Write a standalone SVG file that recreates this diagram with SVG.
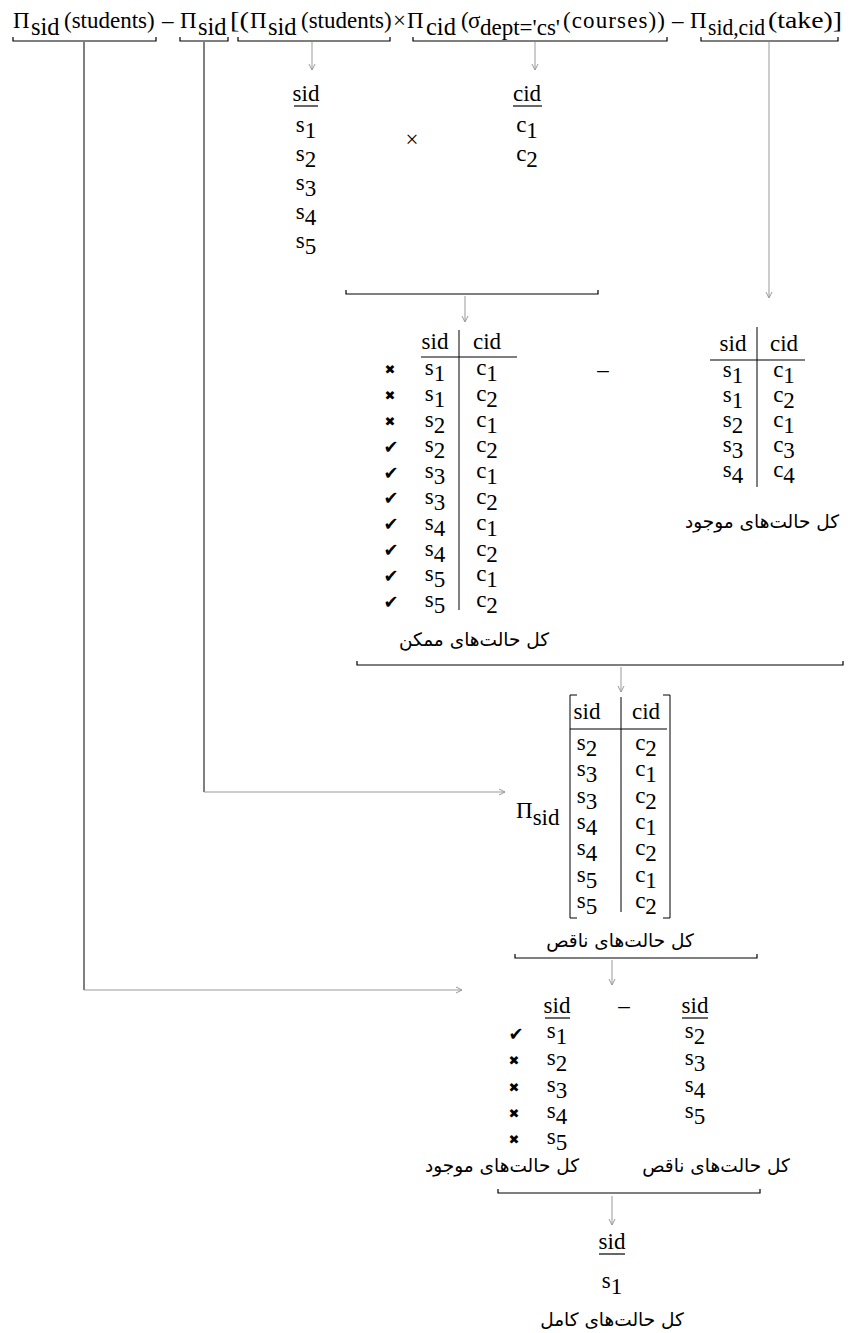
<svg xmlns="http://www.w3.org/2000/svg" width="852" height="1333" viewBox="0 0 852 1333">
<style>
.t{font-family:"Liberation Serif","Times New Roman",serif;font-size:23px;fill:#000}
.sub{font-size:24.5px}
.c{text-anchor:middle}
.fa{font-family:"DejaVu Sans","Noto Sans",sans-serif;font-size:18.5px;fill:#000;text-anchor:middle}
.mk{font-family:"DejaVu Sans",sans-serif;font-size:18px;fill:#000;text-anchor:middle}
.xm{font-family:"DejaVu Sans",sans-serif;font-size:13px;fill:#000;text-anchor:middle}
.brace{fill:none;stroke:#000;stroke-width:1.2}
.rule{fill:none;stroke:#000;stroke-width:1.2}
.k{fill:none;stroke:#000;stroke-width:1}
.g{fill:none;stroke:#999;stroke-width:1}
</style>
<defs>
<marker id="ah" markerWidth="8" markerHeight="8" refX="7" refY="4" orient="auto" markerUnits="userSpaceOnUse">
<path d="M1,1 L7,4 L1,7" fill="none" stroke="#999" stroke-width="1"/>
</marker>
</defs>
<rect width="852" height="1333" fill="#fff"/>

<g id="formula">
<text class="t" y="28"><tspan x="13">Π</tspan><tspan class="sub" x="31" y="35">sid</tspan><tspan x="64" y="28">(students)</tspan><tspan x="162">–</tspan><tspan x="180">Π</tspan><tspan class="sub" x="198" y="35">sid</tspan><tspan x="230" y="28" textLength="19" lengthAdjust="spacingAndGlyphs">[(</tspan><tspan x="250">Π</tspan><tspan class="sub" x="268" y="35">sid</tspan><tspan x="301" y="28">(students)</tspan><tspan x="393">×</tspan><tspan x="407">Π</tspan><tspan class="sub" x="426" y="35">cid</tspan><tspan x="461" y="28">(</tspan><tspan x="468">σ</tspan><tspan x="480" y="35">dept='cs'</tspan><tspan x="563" y="28" textLength="102" lengthAdjust="spacing">(courses))</tspan><tspan x="672">–</tspan><tspan x="690">Π</tspan><tspan x="708" y="35" textLength="57" lengthAdjust="spacingAndGlyphs">sid,cid</tspan><tspan x="768" y="28" textLength="74" lengthAdjust="spacingAndGlyphs">(take)]</tspan></text>
<path class="brace" d="M13,37 V41 H156 V37"/>
<path class="brace" d="M180,37 V41 H228 V37"/>
<path class="brace" d="M238,37 V41 H390 V37"/>
<path class="brace" d="M413,37 V41 H667 V37"/>
<path class="brace" d="M701,37 V41 H838 V37"/>
</g>

<g id="students">
<text class="t c" x="306" y="101">sid</text>
<path class="rule" d="M294,106 H318"/>
<text class="t c" x="306" y="132">s<tspan dy="6">1</tspan></text>
<text class="t c" x="306" y="161">s<tspan dy="6">2</tspan></text>
<text class="t c" x="306" y="190">s<tspan dy="6">3</tspan></text>
<text class="t c" x="306" y="219">s<tspan dy="6">4</tspan></text>
<text class="t c" x="306" y="248">s<tspan dy="6">5</tspan></text>
</g>
<g id="times-op"><text class="t c" x="412" y="147">×</text></g>
<g id="courses">
<text class="t c" x="527" y="101">cid</text>
<path class="rule" d="M513,106 H542"/>
<text class="t c" x="527" y="132">c<tspan dy="6">1</tspan></text>
<text class="t c" x="527" y="161">c<tspan dy="6">2</tspan></text>
</g>
<g id="product-brace"><path class="brace" d="M346,290 V294 H598 V290"/></g>

<g id="product">
<text class="t c" x="435" y="349">sid</text>
<text class="t c" x="487" y="349">cid</text>
<path class="k" d="M459,330 V610"/>
<path class="rule" d="M421,357 H517"/>
<g class="xm"><text x="390" y="374">✖</text><text x="390" y="400">✖</text><text x="390" y="426">✖</text></g>
<g class="mk"><text x="391" y="453">✔</text><text x="391" y="479">✔</text><text x="391" y="504">✔</text><text x="391" y="530">✔</text><text x="391" y="556">✔</text><text x="391" y="582">✔</text><text x="391" y="608">✔</text></g>
<text class="t c" x="435" y="375">s<tspan dy="6">1</tspan></text><text class="t c" x="487" y="375">c<tspan dy="6">1</tspan></text>
<text class="t c" x="435" y="401">s<tspan dy="6">1</tspan></text><text class="t c" x="487" y="401">c<tspan dy="6">2</tspan></text>
<text class="t c" x="435" y="427">s<tspan dy="6">2</tspan></text><text class="t c" x="487" y="427">c<tspan dy="6">1</tspan></text>
<text class="t c" x="435" y="452">s<tspan dy="6">2</tspan></text><text class="t c" x="487" y="452">c<tspan dy="6">2</tspan></text>
<text class="t c" x="435" y="478">s<tspan dy="6">3</tspan></text><text class="t c" x="487" y="478">c<tspan dy="6">1</tspan></text>
<text class="t c" x="435" y="504">s<tspan dy="6">3</tspan></text><text class="t c" x="487" y="504">c<tspan dy="6">2</tspan></text>
<text class="t c" x="435" y="530">s<tspan dy="6">4</tspan></text><text class="t c" x="487" y="530">c<tspan dy="6">1</tspan></text>
<text class="t c" x="435" y="556">s<tspan dy="6">4</tspan></text><text class="t c" x="487" y="556">c<tspan dy="6">2</tspan></text>
<text class="t c" x="435" y="581">s<tspan dy="6">5</tspan></text><text class="t c" x="487" y="581">c<tspan dy="6">1</tspan></text>
<text class="t c" x="435" y="607">s<tspan dy="6">5</tspan></text><text class="t c" x="487" y="607">c<tspan dy="6">2</tspan></text>
<text class="fa" x="474" y="646">کل حالت‌های ممکن</text>
</g>
<g id="minus-op"><text class="t c" x="603" y="377">–</text></g>

<g id="take">
<text class="t c" x="733" y="351">sid</text>
<text class="t c" x="784" y="351">cid</text>
<path class="k" d="M757,327 V487"/>
<path class="rule" d="M710,360 H805"/>
<text class="t c" x="733" y="377">s<tspan dy="6">1</tspan></text><text class="t c" x="784" y="377">c<tspan dy="6">1</tspan></text>
<text class="t c" x="733" y="402">s<tspan dy="6">1</tspan></text><text class="t c" x="784" y="402">c<tspan dy="6">2</tspan></text>
<text class="t c" x="733" y="427">s<tspan dy="6">2</tspan></text><text class="t c" x="784" y="427">c<tspan dy="6">1</tspan></text>
<text class="t c" x="733" y="452">s<tspan dy="6">3</tspan></text><text class="t c" x="784" y="452">c<tspan dy="6">3</tspan></text>
<text class="t c" x="733" y="477">s<tspan dy="6">4</tspan></text><text class="t c" x="784" y="477">c<tspan dy="6">4</tspan></text>
<text class="fa" x="762" y="528">کل حالت‌های موجود</text>
</g>
<g id="diff-brace"><path class="brace" d="M357,661 V665 H843 V661"/></g>

<g id="projection">
<text class="t" x="516" y="818">Π<tspan dy="7">sid</tspan></text>
<path class="k" d="M577,695 H570 V918 H577"/>
<path class="k" d="M663,695 H670 V918 H663"/>
<text class="t c" x="587" y="719">sid</text>
<text class="t c" x="646" y="719">cid</text>
<path class="k" d="M621,697 V912"/>
<path class="rule" d="M570,729 H667"/>
<text class="t c" x="587" y="750">s<tspan dy="6">2</tspan></text><text class="t c" x="646" y="750">c<tspan dy="6">2</tspan></text>
<text class="t c" x="587" y="776">s<tspan dy="6">3</tspan></text><text class="t c" x="646" y="776">c<tspan dy="6">1</tspan></text>
<text class="t c" x="587" y="803">s<tspan dy="6">3</tspan></text><text class="t c" x="646" y="803">c<tspan dy="6">2</tspan></text>
<text class="t c" x="587" y="829">s<tspan dy="6">4</tspan></text><text class="t c" x="646" y="829">c<tspan dy="6">1</tspan></text>
<text class="t c" x="587" y="855">s<tspan dy="6">4</tspan></text><text class="t c" x="646" y="855">c<tspan dy="6">2</tspan></text>
<text class="t c" x="587" y="882">s<tspan dy="6">5</tspan></text><text class="t c" x="646" y="882">c<tspan dy="6">1</tspan></text>
<text class="t c" x="587" y="908">s<tspan dy="6">5</tspan></text><text class="t c" x="646" y="908">c<tspan dy="6">2</tspan></text>
<text class="fa" x="620" y="947">کل حالت‌های ناقص</text>
<path class="brace" d="M515,954 V958 H757 V954"/>
</g>

<g id="incomplete-list">
<text class="t c" x="695" y="1013">sid</text>
<path class="rule" d="M682,1018 H708"/>
<text class="t c" x="695" y="1038">s<tspan dy="6">2</tspan></text>
<text class="t c" x="695" y="1065">s<tspan dy="6">3</tspan></text>
<text class="t c" x="695" y="1092">s<tspan dy="6">4</tspan></text>
<text class="t c" x="695" y="1118">s<tspan dy="6">5</tspan></text>
<text class="fa" x="716" y="1172">کل حالت‌های ناقص</text>
</g>

<g id="difference">
<text class="t c" x="557" y="1013">sid</text>
<path class="rule" d="M545,1018 H570"/>
<text class="t c" x="624" y="1013">–</text>
<text class="mk" x="516" y="1040">✔</text>
<g class="xm"><text x="514" y="1065">✖</text><text x="514" y="1092">✖</text><text x="514" y="1118">✖</text><text x="514" y="1144">✖</text></g>
<text class="t c" x="557" y="1038">s<tspan dy="6">1</tspan></text>
<text class="t c" x="557" y="1065">s<tspan dy="6">2</tspan></text>
<text class="t c" x="557" y="1092">s<tspan dy="6">3</tspan></text>
<text class="t c" x="557" y="1118">s<tspan dy="6">4</tspan></text>
<text class="t c" x="557" y="1144">s<tspan dy="6">5</tspan></text>
<text class="fa" x="502" y="1172">کل حالت‌های موجود</text>
<path class="brace" d="M498,1189 V1193 H760 V1189"/>
</g>

<g id="result">
<text class="t c" x="612" y="1249">sid</text>
<path class="rule" d="M599,1254 H625"/>
<text class="t c" x="612" y="1288">s<tspan dy="6">1</tspan></text>
<text class="fa" x="612" y="1326">کل حالت‌های کامل</text>
</g>

<g id="connectors">
<path class="k" d="M84,42 V990"/>
<path class="g" d="M84,990 H462" marker-end="url(#ah)"/>
<path class="k" d="M204,42 V792"/>
<path class="g" d="M204,792 H505" marker-end="url(#ah)"/>
<path class="g" d="M312,42 V70" marker-end="url(#ah)"/>
<path class="g" d="M535,42 V70" marker-end="url(#ah)"/>
<path class="g" d="M769,42 V298" marker-end="url(#ah)"/>
<path class="g" d="M465,296 V322" marker-end="url(#ah)"/>
<path class="g" d="M621,667 V692" marker-end="url(#ah)"/>
<path class="g" d="M612,960 V985" marker-end="url(#ah)"/>
<path class="g" d="M612,1196 V1225" marker-end="url(#ah)"/>
</g>
</svg>
